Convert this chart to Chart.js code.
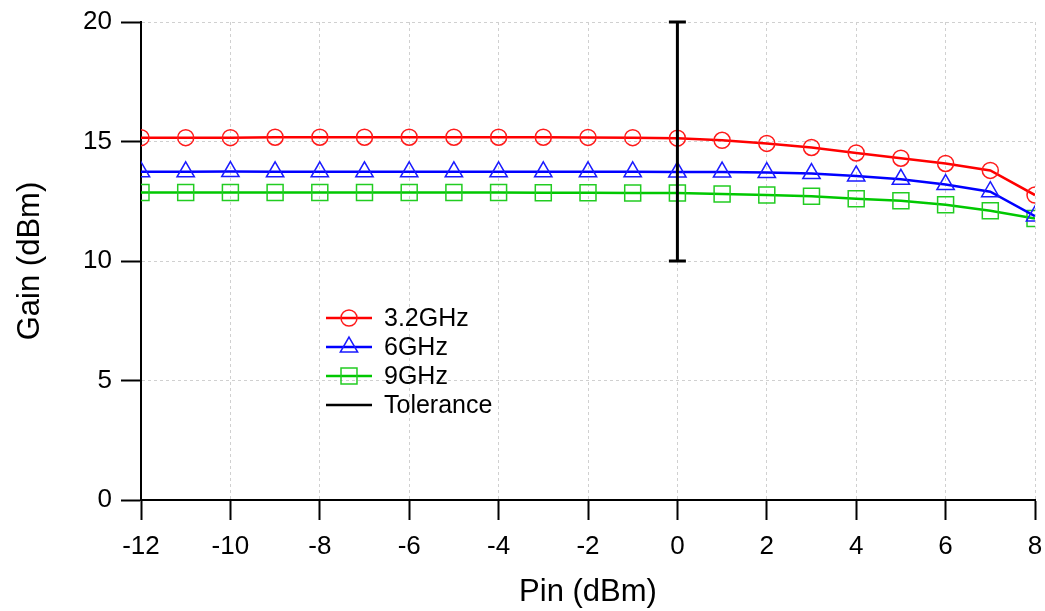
<!DOCTYPE html>
<html>
<head>
<meta charset="utf-8">
<script src="https://cdn.jsdelivr.net/npm/chart.js@4"></script>
<style>
  body { margin: 0; background: #fff; }
  canvas { display: block; }
</style>
</head>
<body>
<canvas id="gain-chart" width="1045" height="611"></canvas>
<script>
// input power (dBm)
const pin = [-12, -11, -10, -9, -8, -7, -6, -5, -4, -3, -2, -1, 0, 1, 2, 3, 4, 5, 6, 7, 8];
// gain per frequency (dBm)
const gain32 = [15.16, 15.16, 15.16, 15.18, 15.18, 15.18, 15.18, 15.18, 15.18, 15.18, 15.17, 15.16, 15.14, 15.05, 14.92, 14.75, 14.52, 14.30, 14.08, 13.79, 12.76];
const gain6 = [13.73, 13.73, 13.74, 13.73, 13.73, 13.73, 13.73, 13.73, 13.73, 13.73, 13.73, 13.73, 13.72, 13.72, 13.70, 13.66, 13.56, 13.42, 13.20, 12.90, 11.88];
const gain9 = [12.87, 12.87, 12.87, 12.87, 12.87, 12.87, 12.87, 12.87, 12.87, 12.86, 12.86, 12.85, 12.85, 12.80, 12.76, 12.71, 12.60, 12.52, 12.35, 12.10, 11.78];
// tolerance bar
const tolX = [0, 0];
const tolY = [10, 20];

const xTicks = [-12, -10, -8, -6, -4, -2, 0, 2, 4, 6, 8];
const yTicks = [0, 5, 10, 15, 20];

const FONT = '"Liberation Sans", Arial, Helvetica, sans-serif';

const toPoints = (xs, ys) => xs.map((x, i) => ({ x: x, y: ys[i] }));

// draws the little caps at the ends of the tolerance bar
const capsPlugin = {
  id: "tolCaps",
  afterDatasetsDraw(chart) {
    const ctx = chart.ctx;
    chart.data.datasets.forEach((ds, i) => {
      if (!ds.errorCaps) return;
      const meta = chart.getDatasetMeta(i);
      ctx.save();
      ctx.strokeStyle = ds.borderColor;
      ctx.lineWidth = ds.borderWidth;
      meta.data.forEach((p) => {
        ctx.beginPath();
        ctx.moveTo(p.x - 8.5, p.y);
        ctx.lineTo(p.x + 8.5, p.y);
        ctx.stroke();
      });
      ctx.restore();
    });
  },
};

function drawMarker(ctx, style, r, x, y) {
  ctx.beginPath();
  if (style === "circle") {
    ctx.arc(x, y, r, 0, Math.PI * 2);
  } else if (style === "triangle") {
    ctx.moveTo(x, y - r);
    ctx.lineTo(x + r * Math.sin(Math.PI * 2 / 3), y - r * Math.cos(Math.PI * 2 / 3));
    ctx.lineTo(x + r * Math.sin(Math.PI * 4 / 3), y - r * Math.cos(Math.PI * 4 / 3));
    ctx.closePath();
  } else if (style === "rect") {
    const s = r * Math.SQRT1_2;
    ctx.rect(x - s, y - s, 2 * s, 2 * s);
  }
  ctx.stroke();
}

// legend sits inside the plot area
const legendPlugin = {
  id: "innerLegend",
  afterDraw(chart) {
    const ctx = chart.ctx;
    ctx.save();
    ctx.font = "25px " + FONT;
    ctx.textBaseline = "middle";
    ctx.textAlign = "left";
    chart.data.datasets.forEach((ds, i) => {
      const y = 318 + i * 29;
      ctx.strokeStyle = ds.borderColor;
      ctx.lineWidth = ds.errorCaps ? 2.5 : ds.borderWidth;
      ctx.beginPath();
      ctx.moveTo(326, y);
      ctx.lineTo(372, y);
      ctx.stroke();
      if (ds.pointRadius) {
        ctx.strokeStyle = ds.pointBorderColor;
        ctx.lineWidth = ds.pointBorderWidth;
        drawMarker(ctx, ds.pointStyle, ds.pointRadius, 349, y);
      }
      ctx.fillStyle = "#000";
      ctx.fillText(ds.label, 384, y + 1);
    });
    ctx.restore();
  },
};

const config = {
  type: "line",
  data: {
    datasets: [
      {
        label: "3.2GHz",
        data: toPoints(pin, gain32),
        borderColor: "#ff0000",
        borderWidth: 2.5,
        pointStyle: "circle",
        pointRadius: 8,
        pointBorderColor: "#ff1a1a",
        pointBorderWidth: 1.5,
        pointBackgroundColor: "rgba(0,0,0,0)",
        order: 1,
      },
      {
        label: "6GHz",
        data: toPoints(pin, gain6),
        borderColor: "#0000ff",
        borderWidth: 2.5,
        pointStyle: "triangle",
        pointRadius: 10,
        pointBorderColor: "#1a1aff",
        pointBorderWidth: 1.5,
        pointBackgroundColor: "rgba(0,0,0,0)",
        order: 2,
      },
      {
        label: "9GHz",
        data: toPoints(pin, gain9),
        borderColor: "#00c800",
        borderWidth: 2.5,
        pointStyle: "rect",
        pointRadius: 11.3,
        pointBorderColor: "#22cc22",
        pointBorderWidth: 1.5,
        pointBackgroundColor: "rgba(0,0,0,0)",
        order: 3,
      },
      {
        label: "Tolerance",
        data: toPoints(tolX, tolY),
        borderColor: "#000000",
        borderWidth: 3,
        pointRadius: 0,
        errorCaps: true,
        order: 0,
      },
    ],
  },
  options: {
    responsive: false,
    animation: false,
    devicePixelRatio: 1,
    events: [],
    layout: {
      autoPadding: false,
      padding: { top: 22, right: 10, left: 0, bottom: 0 },
    },
    plugins: {
      legend: { display: false },
      tooltip: { enabled: false },
    },
    scales: {
      x: {
        type: "linear",
        min: -12,
        max: 8,
        afterBuildTicks: (scale) => {
          scale.ticks = xTicks.map((v) => ({ value: v }));
        },
        afterFit: (scale) => {
          scale.height = 111;
          scale.paddingLeft = 0;
          scale.paddingRight = 0;
        },
        grid: {
          color: "#d0d0d0",
          lineWidth: 1,
          tickLength: 20,
          tickColor: "#000",
          tickWidth: 2,
          tickBorderDash: [],
        },
        border: { color: "#000", width: 2, dash: [3, 3] },
        ticks: {
          color: "#000",
          font: { family: FONT, size: 26 },
          padding: 11,
          maxRotation: 0,
        },
        title: {
          display: true,
          text: "Pin (dBm)",
          color: "#000",
          font: { family: FONT, size: 31 },
          padding: { top: 0, bottom: 0 },
        },
      },
      y: {
        type: "linear",
        min: 0,
        max: 20,
        afterBuildTicks: (scale) => {
          scale.ticks = yTicks.map((v) => ({ value: v }));
        },
        afterFit: (scale) => {
          scale.width = 141;
          scale.paddingTop = 0;
          scale.paddingBottom = 0;
        },
        grid: {
          color: "#d0d0d0",
          lineWidth: 1,
          tickLength: 20,
          tickColor: "#000",
          tickWidth: 2,
          tickBorderDash: [],
        },
        border: { color: "#000", width: 2, dash: [3, 3] },
        ticks: {
          color: "#000",
          font: { family: FONT, size: 26 },
          padding: 9,
        },
        title: {
          display: true,
          text: "Gain (dBm)",
          color: "#000",
          font: { family: FONT, size: 31 },
          padding: { top: 12, bottom: 0 },
        },
      },
    },
  },
  plugins: [capsPlugin, legendPlugin],
};

let chartCon = document.querySelector("#gain-chart");
let chart = new Chart(chartCon, config);
</script>
</body>
</html>
